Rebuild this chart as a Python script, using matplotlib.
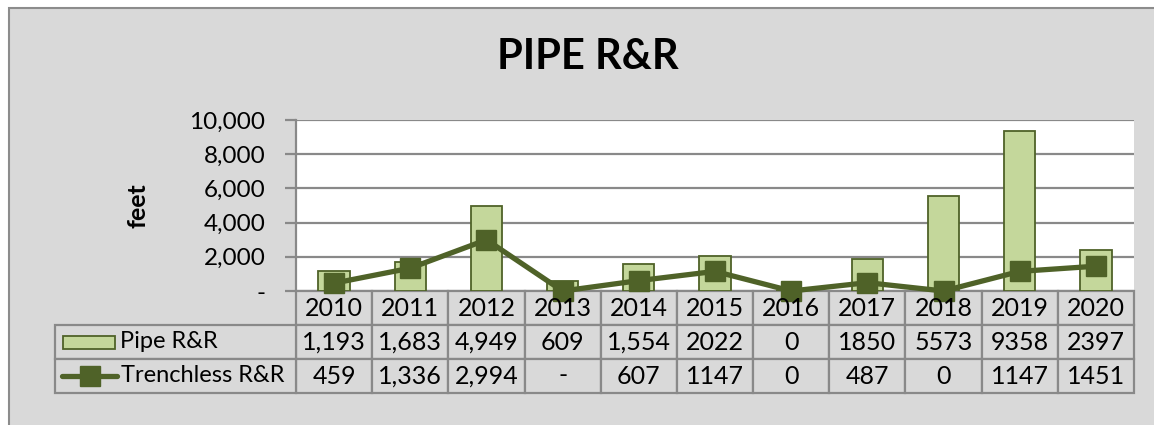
import numpy as np
import matplotlib
matplotlib.use('Agg')
import matplotlib.pyplot as plt
from matplotlib.patches import Rectangle
from matplotlib.lines import Line2D

plt.rcParams['font.family'] = ['Lato', 'DejaVu Sans']

# data
years = ['2010', '2011', '2012', '2013', '2014', '2015', '2016', '2017', '2018', '2019', '2020']
pipe = [1193, 1683, 4949, 609, 1554, 2022, 0, 1850, 5573, 9358, 2397]
trenchless = [459, 1336, 2994, 0, 607, 1147, 0, 487, 0, 1147, 1451]
pipe_labels = ['1,193', '1,683', '4,949', '609', '1,554', '2022', '0', '1850', '5573', '9358', '2397']
trench_labels = ['459', '1,336', '2,994', '-', '607', '1147', '0', '487', '0', '1147', '1451']
yticks = [0, 2000, 4000, 6000, 8000, 10000]
ytick_labels = ['-', '2,000', '4,000', '6,000', '8,000', '10,000']

BG = '#d9d9d9'
BAR = '#c4d79b'
DARK = '#4f6228'
GRID = '#898989'

W, H = 1154, 425
fig = plt.figure(figsize=(W / 100, H / 100), dpi=100)
fig.patch.set_facecolor('white')

# outer chart frame (only top/left visible in the crop)
fig.patches.append(Rectangle((9 / W, -0.1), 1.2, (H - 8) / H + 0.1, transform=fig.transFigure,
                             facecolor=BG, edgecolor='#8c8c8c', lw=1.5, zorder=-10))

px_l, px_r, px_t, px_b = 296, 1134, 120, 291
ax = fig.add_axes([px_l / W, (H - px_b) / H, (px_r - px_l) / W, (px_b - px_t) / H])
ax.set_facecolor('white')

x = np.arange(len(years))
ax.bar(x, pipe, width=0.41, color=BAR, edgecolor=DARK, lw=1.3, zorder=2)
ax.plot(x, trenchless, color=DARK, lw=3.8, marker='s', markersize=15, zorder=3, clip_on=False)

ax.set_xlim(-0.5, len(years) - 0.5)
ax.set_ylim(0, 10000)
ax.set_yticks(yticks)
ax.set_yticklabels(ytick_labels, fontsize=17.5)
ax.set_xticks([])
ax.yaxis.grid(True, color=GRID, lw=1.6, zorder=0)
ax.set_axisbelow(True)
for s in ['top', 'right', 'bottom']:
    ax.spines[s].set_visible(False)
ax.spines['left'].set_color(GRID)
ax.spines['left'].set_linewidth(1.6)
ax.tick_params(axis='y', length=8, width=1.6, color=GRID, pad=14)
ax.set_ylabel('feet', fontsize=18, fontweight='bold')
ax.yaxis.set_label_coords((149 - px_l) / (px_r - px_l), 0.5)

fig.text(588 / W, (H - 57) / H, 'PIPE R&R', ha='center', va='center',
         fontsize=30, fontweight='bold')

# data table under the axis
row_h = 34 / (px_b - px_t)
trans = ax.get_xaxis_transform()
rows = [years, pipe_labels, trench_labels]
for r, vals in enumerate(rows):
    y0 = -row_h * (r + 1)
    for i, v in enumerate(vals):
        ax.add_patch(Rectangle((i - 0.5, y0), 1, row_h, transform=trans, facecolor=BG,
                               edgecolor=GRID, lw=1.6, clip_on=False, zorder=1))
        ax.text(i, y0 + row_h / 2, v, transform=trans, ha='center', va='center',
                fontsize=18, clip_on=False)

# legend column of the table
leg_l = 55 / W
leg_w = (px_l - 55) / W
rh = 34 / H
for r in range(2):
    yb = (H - px_b - 34 * (r + 2)) / H
    fig.patches.append(Rectangle((leg_l, yb), leg_w, rh, transform=fig.transFigure,
                                 facecolor=BG, edgecolor=GRID, lw=1.6, zorder=1))
yb1 = (H - px_b - 68) / H
fig.patches.append(Rectangle((63 / W, yb1 + 10.5 / H), 52 / W, 13 / H, transform=fig.transFigure,
                             facecolor=BAR, edgecolor=DARK, lw=1.3, zorder=2))
fig.text(120 / W, yb1 + 17 / H, 'Pipe R&R', fontsize=17, va='center', ha='left')
yb2 = (H - px_b - 102) / H
fig.lines.append(Line2D([62 / W, 117 / W], [yb2 + 17 / H] * 2, transform=fig.transFigure,
                        color=DARK, lw=3.8, solid_capstyle='round', zorder=2))
fig.lines.append(Line2D([89.5 / W], [yb2 + 17 / H], transform=fig.transFigure, color=DARK,
                        marker='s', markersize=15, zorder=3))
fig.text(121 / W, yb2 + 17 / H, 'Trenchless R&R', fontsize=17, va='center', ha='left')

fig.savefig('out.png', dpi=100, facecolor=fig.get_facecolor())
